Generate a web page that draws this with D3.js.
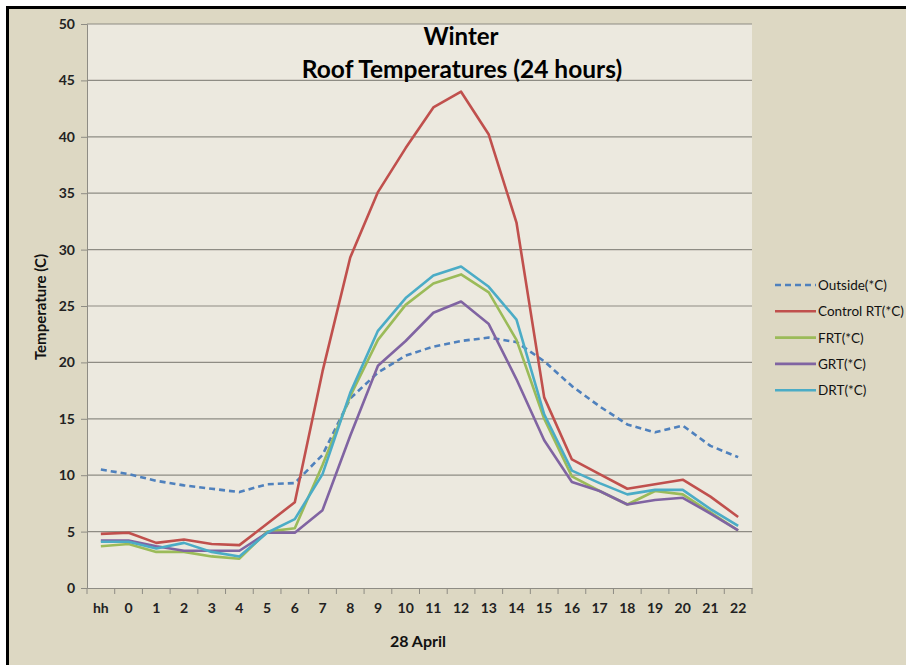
<!DOCTYPE html>
<html><head><meta charset="utf-8">
<script src="https://cdn.jsdelivr.net/npm/d3@7"></script>
<style>html,body{margin:0;padding:0;background:#fff;overflow:hidden;}svg{display:block;}</style>
</head><body>
<svg id="chart" width="906" height="665"></svg>
<script>
const categories = ["hh","0","1","2","3","4","5","6","7","8","9","10","11","12","13","14","15","16","17","18","19","20","21","22"];
const outside   = [10.5,10.1,9.5,9.1,8.8,8.5,9.2,9.3,11.8,16.8,19.1,20.6,21.4,21.9,22.2,21.8,20.1,17.9,16.1,14.5,13.8,14.4,12.6,11.6];
const controlRT = [4.8,4.9,4.0,4.3,3.9,3.8,5.7,7.6,19.2,29.3,35.1,39.0,42.6,44.0,40.2,32.4,16.9,11.4,10.1,8.8,9.2,9.6,8.1,6.3];
const frt       = [3.7,3.9,3.2,3.2,2.8,2.6,5.0,5.3,10.9,17.0,22.0,25.1,27.0,27.8,26.2,22.0,15.0,9.9,8.6,7.4,8.6,8.3,6.7,5.1];
const grt       = [4.2,4.2,3.7,3.3,3.3,3.3,4.9,4.9,6.9,13.5,19.7,21.9,24.4,25.4,23.4,18.5,13.1,9.4,8.6,7.4,7.8,8.0,6.6,5.1];
const drt       = [4.1,4.1,3.5,4.0,3.2,2.8,4.9,6.1,10.1,17.3,22.8,25.7,27.7,28.5,26.7,23.8,15.4,10.4,9.3,8.3,8.7,8.7,7.0,5.5];
const seriesNames = ["Outside(*C)","Control RT(*C)","FRT(*C)","GRT(*C)","DRT(*C)"];
const yTicks = [0,5,10,15,20,25,30,35,40,45,50];

const seriesData = [outside, controlRT, frt, grt, drt];
const colors = ["#4f81bd","#c0504d","#9bbb59","#8064a2","#4bacc6"];
const dashes = ["6,4",null,null,null,null];

const svg = d3.select("#chart");
const font = "Lato, 'Open Sans', sans-serif";
// outer frame (right and bottom edges fall outside the picture)
svg.append("rect").attr("x",7.5).attr("y",7.5).attr("width",1000).attr("height",1000)
  .attr("fill","#ddd8c3").attr("stroke","#000").attr("stroke-width",3);

const L=87, R=752, T=24, B=588;
const x = d3.scaleBand().domain(categories).range([L,R]);
const y = d3.scaleLinear().domain([0,50]).range([B,T]);

svg.append("rect").attr("x",L).attr("y",T).attr("width",R-L).attr("height",B-T).attr("fill","#ece9df");

// gridlines
svg.append("g").selectAll("line").data(yTicks.filter(d=>d>0)).join("line")
  .attr("x1",L).attr("x2",R).attr("y1",d=>y(d)).attr("y2",d=>y(d))
  .attr("stroke","#8e8c84").attr("stroke-width",1.2);

// y axis
const yAxis = svg.append("g").attr("transform",`translate(${L},0)`)
  .call(d3.axisLeft(y).tickValues(yTicks).tickSize(6).tickPadding(6));
yAxis.select(".domain").attr("stroke","#8e8c84");
yAxis.selectAll(".tick line").attr("stroke","#8e8c84");
yAxis.selectAll("text").attr("font-family",font).attr("font-size",14).attr("font-weight","bold").attr("fill","#222");

// x axis
const xAxis = svg.append("g").attr("transform",`translate(0,${B})`)
  .call(d3.axisBottom(x).tickSize(0).tickPadding(15));
xAxis.select(".domain").attr("stroke","#8e8c84");
xAxis.selectAll("text").attr("font-family",font).attr("font-size",14).attr("font-weight","bold").attr("fill","#222");
// boundary ticks
const bounds = categories.map(c=>x(c)).concat([R]);
svg.append("g").selectAll("line").data(bounds).join("line")
  .attr("x1",d=>d).attr("x2",d=>d).attr("y1",B).attr("y2",B+6)
  .attr("stroke","#8e8c84");

// lines
const line = d3.line().x((d,i)=>x(categories[i])+x.bandwidth()/2).y(d=>y(d));
seriesData.forEach((s,k)=>{
  svg.append("path").datum(s).attr("d",line).attr("fill","none")
    .attr("stroke",colors[k]).attr("stroke-width",2.6)
    .attr("stroke-dasharray",dashes[k]).attr("stroke-linejoin","round");
});

// title
svg.append("text").attr("x",461).attr("y",45).attr("text-anchor","middle")
  .attr("font-family",font).attr("font-size",24).attr("font-weight","bold").attr("fill","#000").text("Winter");
svg.append("text").attr("x",462).attr("y",78).attr("text-anchor","middle")
  .attr("font-family",font).attr("font-size",24.5).attr("font-weight","bold").attr("fill","#000").text("Roof Temperatures (24 hours)");

// axis titles
svg.append("text").attr("transform","translate(46,307) rotate(-90)").attr("text-anchor","middle")
  .attr("font-family",font).attr("font-size",15).attr("font-weight","bold").attr("fill","#111").text("Temperature (C)");
svg.append("text").attr("x",418).attr("y",647).attr("text-anchor","middle")
  .attr("font-family",font).attr("font-size",16).attr("font-weight","bold").attr("fill","#111").text("28 April");

// legend
const lg = svg.append("g");
seriesNames.forEach((n,k)=>{
  const yy = 285 + k*26.3;
  lg.append("line").attr("x1",775).attr("x2",816).attr("y1",yy).attr("y2",yy)
    .attr("stroke",colors[k]).attr("stroke-width",2.6).attr("stroke-dasharray",dashes[k]);
  lg.append("text").attr("x",818).attr("y",yy+5).attr("font-family",font).attr("font-size",13.5)
    .attr("fill","#111").text(n);
});
</script>
</body></html>
